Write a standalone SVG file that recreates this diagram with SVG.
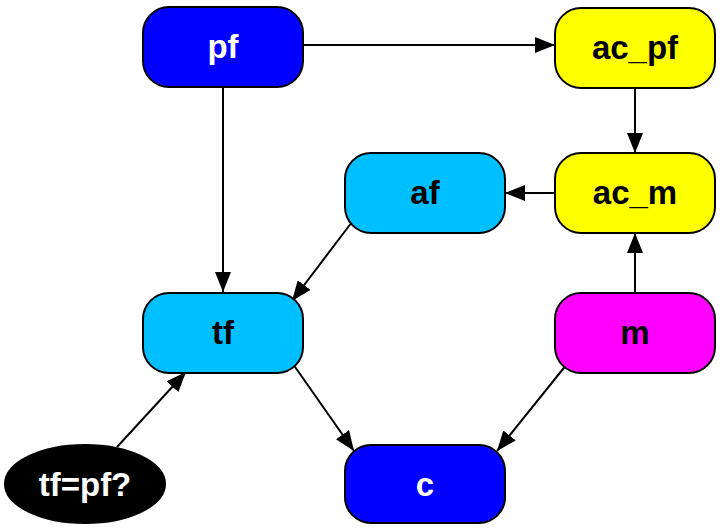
<svg xmlns="http://www.w3.org/2000/svg" width="723" height="531" viewBox="0 0 723 531">
<style>
.n{stroke:#000;stroke-width:2}
.t{font-family:"Liberation Sans",Arial,sans-serif;font-weight:bold;font-size:33px;text-anchor:middle;dominant-baseline:central}
.w{fill:#fff}
.k{fill:#000}
.e{stroke:#000;stroke-width:2;fill:none;marker-end:url(#ah)}
</style>
<defs>
<marker id="ah" viewBox="0 0 20 16" refX="20" refY="8" markerWidth="20" markerHeight="16" markerUnits="userSpaceOnUse" orient="auto">
<path d="M0,0 L20,8 L0,16 Z" fill="#000"/>
</marker>
</defs>
<g id="connectors">
<line class="e" x1="303" y1="45" x2="555" y2="45"/>
<line class="e" x1="223" y1="87" x2="223" y2="292"/>
<line class="e" x1="635" y1="88" x2="635" y2="153"/>
<line class="e" x1="555" y1="193" x2="505" y2="193"/>
<line class="e" x1="352" y1="222" x2="292" y2="301"/>
<line class="e" x1="635" y1="293" x2="635" y2="233"/>
<line class="e" x1="293" y1="364" x2="354" y2="451"/>
<line class="e" x1="567" y1="364" x2="497" y2="451"/>
<line class="e" x1="117" y1="447" x2="186" y2="372"/>
</g>
<g id="pf"><rect class="n" x="143" y="7" width="160" height="80" rx="26" fill="#0000ff"/><text class="t w" x="223" y="46">pf</text></g>
<g id="ac_pf"><rect class="n" x="555" y="8" width="160" height="80" rx="26" fill="#ffff00"/><text class="t k" x="635" y="47">ac_pf</text></g>
<g id="ac_m"><rect class="n" x="555" y="153" width="160" height="80" rx="26" fill="#ffff00"/><text class="t k" x="635" y="192">ac_m</text></g>
<g id="af"><rect class="n" x="345" y="153" width="160" height="80" rx="26" fill="#00bfff"/><text class="t k" x="425" y="192">af</text></g>
<g id="tf"><rect class="n" x="143" y="293" width="160" height="80" rx="26" fill="#00bfff"/><text class="t k" x="223" y="332">tf</text></g>
<g id="m"><rect class="n" x="555" y="293" width="160" height="80" rx="26" fill="#ff00ff"/><text class="t k" x="635" y="332">m</text></g>
<g id="c"><rect class="n" x="345" y="445" width="160" height="78" rx="26" fill="#0000ff"/><text class="t w" x="425" y="484">c</text></g>
<g id="tf_pf"><ellipse class="n" cx="85" cy="484" rx="80" ry="39" fill="#000"/><text class="t w" x="85" y="484">tf=pf?</text></g>
</svg>
